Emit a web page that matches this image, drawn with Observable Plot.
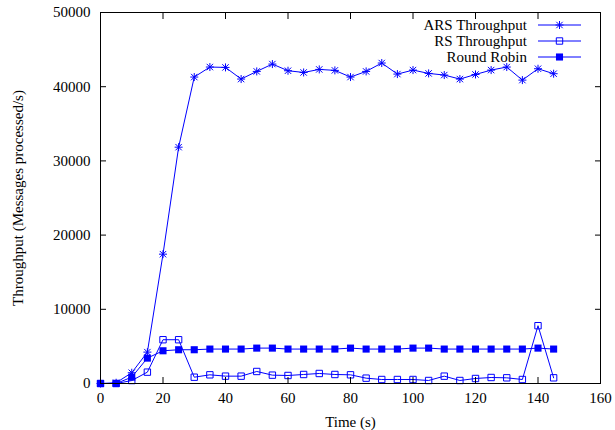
<!DOCTYPE html>
<html>
<head>
<meta charset="utf-8">
<script src="https://cdn.jsdelivr.net/npm/d3@7"></script>
<script src="https://cdn.jsdelivr.net/npm/@observablehq/plot@0.6"></script>
<style>
  html, body { margin: 0; padding: 0; background: white; }
  #wrap { position: relative; width: 615px; height: 430px; }
  #legend { position: absolute; left: 0; top: 0; pointer-events: none; }
</style>
</head>
<body>
<div id="wrap"></div>
<script>
// ---- data ----
const times = [0, 5, 10, 15, 20, 25, 30, 35, 40, 45, 50, 55, 60, 65, 70, 75, 80, 85, 90, 95, 100, 105, 110, 115, 120, 125, 130, 135, 140, 145];
const arsThroughput = [0, 100, 1450, 4230, 17430, 31850, 41300, 42650, 42600, 41030, 42060, 43050, 42150, 41920, 42330, 42200, 41300, 42060, 43190, 41700, 42240, 41790, 41570, 41030, 41650, 42240, 42650, 40890, 42420, 41750];
const rsThroughput = [0, 0, 400, 1530, 5900, 5900, 850, 1170, 990, 990, 1620, 1125, 1080, 1215, 1350, 1215, 1170, 720, 540, 540, 540, 405, 990, 405, 675, 810, 765, 540, 7790, 765];
const roundRobin = [0, 0, 855, 3420, 4410, 4550, 4550, 4640, 4640, 4640, 4770, 4770, 4640, 4640, 4640, 4640, 4770, 4640, 4640, 4640, 4770, 4770, 4640, 4640, 4640, 4640, 4640, 4640, 4770, 4640];
const seriesNames = ["ARS Throughput", "RS Throughput", "Round Robin"];
const xTicks = [0, 20, 40, 60, 80, 100, 120, 140, 160];
const yTicks = [0, 10000, 20000, 30000, 40000, 50000];
const xLabel = "Time (s)";
const yLabel = "Throughput (Messages processed/s)";

// ---- styling ----
const blue = "#0000ff";
const font = "Liberation Serif, Times New Roman, serif";

// gnuplot-like star point (plus + cross)
const star = {
  draw(ctx, size) {
    const r = Math.sqrt(size / Math.PI);
    const d = r * 0.8;
    ctx.moveTo(-r, 0); ctx.lineTo(r, 0);
    ctx.moveTo(0, -r); ctx.lineTo(0, r);
    ctx.moveTo(-d, -d); ctx.lineTo(d, d);
    ctx.moveTo(-d, d); ctx.lineTo(d, -d);
  }
};

const mk = (vals) => times.map((t, i) => ({t, v: vals[i]}));
const ars = mk(arsThroughput), rs = mk(rsThroughput), rr = mk(roundRobin);

const chart = Plot.plot({
  width: 615,
  height: 430,
  marginLeft: 100,
  marginRight: 15,
  marginTop: 12,
  marginBottom: 47,
  style: {fontFamily: font, fontSize: "15px", background: "white", color: "black"},
  x: {domain: [0, 160]},
  y: {domain: [0, 50000]},
  marks: [
    Plot.line(ars, {x: "t", y: "v", stroke: blue, strokeWidth: 1}),
    Plot.line(rs, {x: "t", y: "v", stroke: blue, strokeWidth: 1}),
    Plot.line(rr, {x: "t", y: "v", stroke: blue, strokeWidth: 1}),
    Plot.dot(ars, {x: "t", y: "v", symbol: star, r: 4, stroke: blue, fill: "none", strokeWidth: 1}),
    Plot.dot(rs, {x: "t", y: "v", symbol: "square", r: 3.6, stroke: blue, fill: "none", strokeWidth: 1}),
    Plot.dot(rr, {x: "t", y: "v", symbol: "square", r: 4, fill: blue, stroke: "none"}),
    Plot.axisX({anchor: "bottom", ticks: xTicks, tickSize: -6, tickPadding: 15, label: null, tickFormat: d3.format("d")}),
    Plot.axisX({anchor: "top", ticks: xTicks, tickSize: -6, label: null, tickFormat: () => ""}),
    Plot.axisY({anchor: "left", ticks: yTicks, tickSize: -6, tickPadding: 16, label: null, tickFormat: d3.format("d")}),
    Plot.axisY({anchor: "right", ticks: yTicks, tickSize: -6, label: null, tickFormat: () => ""}),
    Plot.frame({stroke: "black", strokeWidth: 1}),
    Plot.text([xLabel], {frameAnchor: "bottom", dy: 39, lineAnchor: "middle", textAnchor: "middle", fontSize: 15, fill: "black"}),
    Plot.text([yLabel], {frameAnchor: "left", dx: -82, rotate: -90, lineAnchor: "middle", textAnchor: "middle", fontSize: 15, fill: "black"})
  ]
});
const wrap = document.getElementById("wrap");
wrap.appendChild(chart);

// ---- legend overlay (gnuplot style key, top right inside the frame) ----
const symbols = [star, d3.symbolSquare, d3.symbolSquare];
const legend = d3.select(wrap).append("svg")
  .attr("id", "legend")
  .attr("width", 615).attr("height", 430);
const rowY = [25, 41, 57];
seriesNames.forEach((name, i) => {
  const g = legend.append("g");
  g.append("text")
    .attr("x", 527).attr("y", rowY[i])
    .attr("text-anchor", "end")
    .attr("dy", "0.32em")
    .attr("font-family", font).attr("font-size", 15)
    .attr("fill", "black")
    .text(name);
  g.append("line")
    .attr("x1", 538).attr("x2", 581)
    .attr("y1", rowY[i]).attr("y2", rowY[i])
    .attr("stroke", blue).attr("stroke-width", 1);
  const sz = (i === 1 ? 3.6 : 4) ** 2 * Math.PI;
  const p = g.append("path")
    .attr("transform", `translate(559.5,${rowY[i]})`)
    .attr("d", d3.symbol(symbols[i], sz)());
  if (i === 2) p.attr("fill", blue);
  else p.attr("fill", "none").attr("stroke", blue).attr("stroke-width", 1);
});
</script>
</body>
</html>
